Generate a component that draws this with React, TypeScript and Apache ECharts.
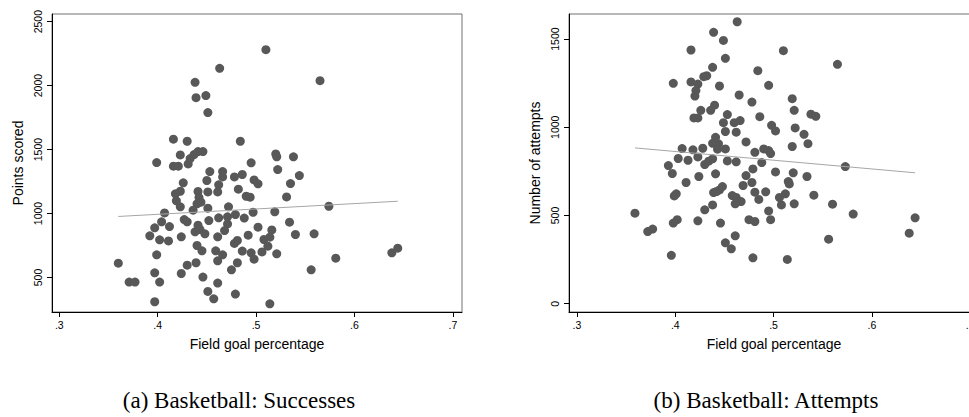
import React, { useEffect, useRef } from "react";
import * as echarts from "echarts";

// Field goal percentage vs points scored (panel a)
const pointsScored: number[][] = [
  [0.510, 2281], [0.463, 2135], [0.565, 2039], [0.438, 2026], [0.439, 1906], [0.449, 1922], [0.451, 1789],
  [0.416, 1581], [0.430, 1565], [0.484, 1565], [0.423, 1458], [0.433, 1430], [0.437, 1461], [0.441, 1484],
  [0.446, 1484], [0.399, 1398], [0.520, 1466], [0.521, 1443], [0.538, 1443], [0.495, 1396], [0.416, 1370],
  [0.421, 1370], [0.431, 1388], [0.453, 1328], [0.466, 1328], [0.466, 1286], [0.478, 1286], [0.486, 1305],
  [0.522, 1344], [0.544, 1297], [0.450, 1258], [0.426, 1240], [0.462, 1224], [0.461, 1169], [0.498, 1263],
  [0.502, 1232], [0.535, 1234], [0.482, 1190], [0.451, 1169], [0.423, 1174], [0.418, 1154], [0.441, 1172],
  [0.442, 1125], [0.444, 1089], [0.440, 1076], [0.490, 1135], [0.494, 1128], [0.531, 1130], [0.419, 1099],
  [0.423, 1052], [0.574, 1057], [0.451, 1042], [0.472, 1052], [0.436, 1026], [0.407, 1005], [0.519, 1013],
  [0.497, 1010], [0.462, 966], [0.471, 974], [0.479, 992], [0.427, 953], [0.430, 935], [0.452, 945],
  [0.488, 964], [0.404, 935], [0.441, 909], [0.471, 919], [0.534, 932], [0.397, 888], [0.412, 898],
  [0.502, 893], [0.468, 867], [0.516, 872], [0.438, 857], [0.443, 875], [0.448, 841], [0.392, 826],
  [0.424, 818], [0.461, 818], [0.492, 831], [0.540, 836], [0.559, 841], [0.402, 794], [0.411, 786],
  [0.481, 789], [0.478, 766], [0.508, 797], [0.514, 815], [0.440, 750], [0.512, 745], [0.445, 708],
  [0.459, 708], [0.486, 706], [0.495, 693], [0.506, 700], [0.638, 693], [0.644, 729], [0.399, 677],
  [0.466, 677], [0.521, 685], [0.498, 643], [0.581, 651], [0.360, 612], [0.461, 630], [0.439, 615],
  [0.430, 596], [0.481, 615], [0.475, 560], [0.556, 560], [0.397, 536], [0.424, 531], [0.446, 503],
  [0.371, 464], [0.377, 464], [0.402, 464], [0.461, 456], [0.451, 391], [0.479, 370], [0.457, 333],
  [0.397, 310], [0.514, 294],
];

// Field goal percentage vs number of attempts (panel b)
const attempts: number[][] = [
  [0.463, 1598], [0.439, 1538], [0.449, 1492], [0.416, 1438], [0.510, 1434], [0.451, 1391], [0.565, 1357],
  [0.438, 1340], [0.484, 1321], [0.429, 1287], [0.432, 1292], [0.398, 1249], [0.416, 1257], [0.423, 1245],
  [0.445, 1234], [0.495, 1238], [0.421, 1208], [0.420, 1177], [0.465, 1183], [0.478, 1143], [0.519, 1162],
  [0.440, 1125], [0.426, 1096], [0.436, 1096], [0.521, 1096], [0.419, 1053], [0.423, 1053], [0.453, 1072],
  [0.486, 1060], [0.538, 1074], [0.543, 1062], [0.449, 1026], [0.460, 1026], [0.466, 1038], [0.498, 1011],
  [0.502, 979], [0.522, 996], [0.451, 976], [0.462, 972], [0.531, 960], [0.441, 943], [0.438, 909],
  [0.535, 907], [0.472, 917], [0.444, 906], [0.443, 876], [0.519, 891], [0.407, 879], [0.418, 872],
  [0.428, 881], [0.451, 877], [0.481, 858], [0.490, 877], [0.495, 868], [0.497, 851], [0.403, 823],
  [0.413, 813], [0.423, 832], [0.430, 789], [0.434, 808], [0.438, 821], [0.453, 809], [0.462, 804],
  [0.573, 777], [0.488, 800], [0.479, 764], [0.393, 783], [0.397, 738], [0.441, 736], [0.424, 721],
  [0.472, 726], [0.502, 747], [0.520, 742], [0.534, 721], [0.411, 687], [0.478, 687], [0.469, 670],
  [0.515, 692], [0.516, 679], [0.439, 630], [0.442, 636], [0.445, 645], [0.448, 664], [0.399, 611],
  [0.401, 623], [0.458, 613], [0.462, 602], [0.467, 579], [0.461, 566], [0.481, 632], [0.492, 634],
  [0.485, 591], [0.506, 602], [0.512, 623], [0.541, 615], [0.508, 560], [0.521, 566], [0.560, 564],
  [0.438, 560], [0.430, 532], [0.495, 526], [0.359, 513], [0.581, 508], [0.644, 487], [0.398, 457],
  [0.402, 476], [0.423, 470], [0.446, 457], [0.475, 476], [0.481, 466], [0.497, 476], [0.372, 409],
  [0.377, 423], [0.638, 400], [0.461, 385], [0.556, 366], [0.451, 345], [0.457, 311], [0.396, 274],
  [0.479, 260], [0.514, 251],
];

// Linear fit lines (end points)
const fitPoints: number[][] = [[0.36, 977], [0.644, 1096]];
const fitAttempts: number[][] = [[0.359, 883], [0.644, 742]];

// Tick values
const xTicks = [0.3, 0.4, 0.5, 0.6, 0.7];
const yTicksPoints = [500, 1000, 1500, 2000, 2500];
const yTicksAttempts = [0, 500, 1000, 1500];

const captions = ["(a) Basketball: Successes", "(b) Basketball: Attempts"];

const SANS = "'Liberation Sans', Arial, Helvetica, sans-serif";
const SERIF = "'Liberation Serif', 'Times New Roman', serif";

function xAxis(gridIndex: number, min: number, max: number) {
  return {
    type: "value",
    gridIndex,
    min,
    max,
    name: "Field goal percentage",
    nameLocation: "middle",
    nameGap: 25,
    nameTextStyle: { fontSize: 14, color: "#000", fontFamily: SANS },
    axisLine: { show: true, onZero: false, lineStyle: { color: "#000", width: 1 } },
    axisTick: { show: true, length: 5, customValues: xTicks, lineStyle: { color: "#000", width: 1 } },
    axisLabel: {
      customValues: xTicks,
      formatter: (v: number) => String(Math.round(v * 10) / 10).replace(/^0/, ""),
      fontSize: 10.5,
      color: "#000",
      margin: 7,
      fontFamily: SANS,
    },
    splitLine: { show: false },
  };
}

function yAxis(gridIndex: number, min: number, max: number, name: string, ticks: number[]) {
  return {
    type: "value",
    gridIndex,
    min,
    max,
    name,
    nameLocation: "middle",
    nameGap: 27,
    nameTextStyle: { fontSize: 14, color: "#000", fontFamily: SANS },
    axisLine: { show: true, onZero: false, lineStyle: { color: "#000", width: 1 } },
    axisTick: { show: true, length: 5, customValues: ticks, lineStyle: { color: "#000", width: 1 } },
    axisLabel: {
      customValues: ticks,
      formatter: (v: number) => String(Math.round(v)),
      rotate: 90,
      fontSize: 10.5,
      color: "#000",
      margin: 9,
      fontFamily: SANS,
    },
    splitLine: { show: false },
  };
}

export default function App() {
  const ref = useRef<HTMLDivElement>(null);
  useEffect(() => {
    if (!ref.current) return;
    const chart = echarts.init(ref.current, undefined, { renderer: "svg" });
    const dotStyle = { color: "#585858", opacity: 1 };
    const lineStyle = { color: "#a6a6a6", width: 1 };
    chart.setOption({
      animation: false,
      backgroundColor: "#fff",
      grid: [
        {
          left: 52, top: 14, width: 410, height: 298, show: true, borderColor: "#707070", borderWidth: 1,
          backgroundColor: "transparent", outerBoundsMode: "none", containLabel: false,
        },
        {
          left: 569, top: 14, width: 410, height: 298, show: true, borderColor: "#707070", borderWidth: 1,
          backgroundColor: "transparent", outerBoundsMode: "none", containLabel: false,
        },
      ],
      xAxis: [xAxis(0, 0.2926, 0.7093), xAxis(1, 0.2919, 0.709)],
      yAxis: [
        yAxis(0, 230, 2560, "Points scored", yTicksPoints),
        yAxis(1, -47, 1642, "Number of attempts", yTicksAttempts),
      ],
      series: [
        { type: "scatter", xAxisIndex: 0, yAxisIndex: 0, data: pointsScored, symbolSize: 9, itemStyle: dotStyle, z: 2 },
        { type: "line", xAxisIndex: 0, yAxisIndex: 0, data: fitPoints, symbol: "none", lineStyle, z: 3 },
        { type: "scatter", xAxisIndex: 1, yAxisIndex: 1, data: attempts, symbolSize: 9, itemStyle: dotStyle, z: 2 },
        { type: "line", xAxisIndex: 1, yAxisIndex: 1, data: fitAttempts, symbol: "none", lineStyle, z: 3 },
      ],
      graphic: [
        {
          type: "text",
          x: 239,
          y: 400,
          style: { text: captions[0], fill: "#000", font: `23px ${SERIF}`, textAlign: "center", textVerticalAlign: "middle" },
        },
        {
          type: "text",
          x: 766,
          y: 400,
          style: { text: captions[1], fill: "#000", font: `23px ${SERIF}`, textAlign: "center", textVerticalAlign: "middle" },
        },
      ],
    });
    return () => chart.dispose();
  }, []);
  return (
    <div
      ref={ref}
      style={{ position: "absolute", left: 0, top: 0, width: 969, height: 417, background: "#fff" }}
    />
  );
}
